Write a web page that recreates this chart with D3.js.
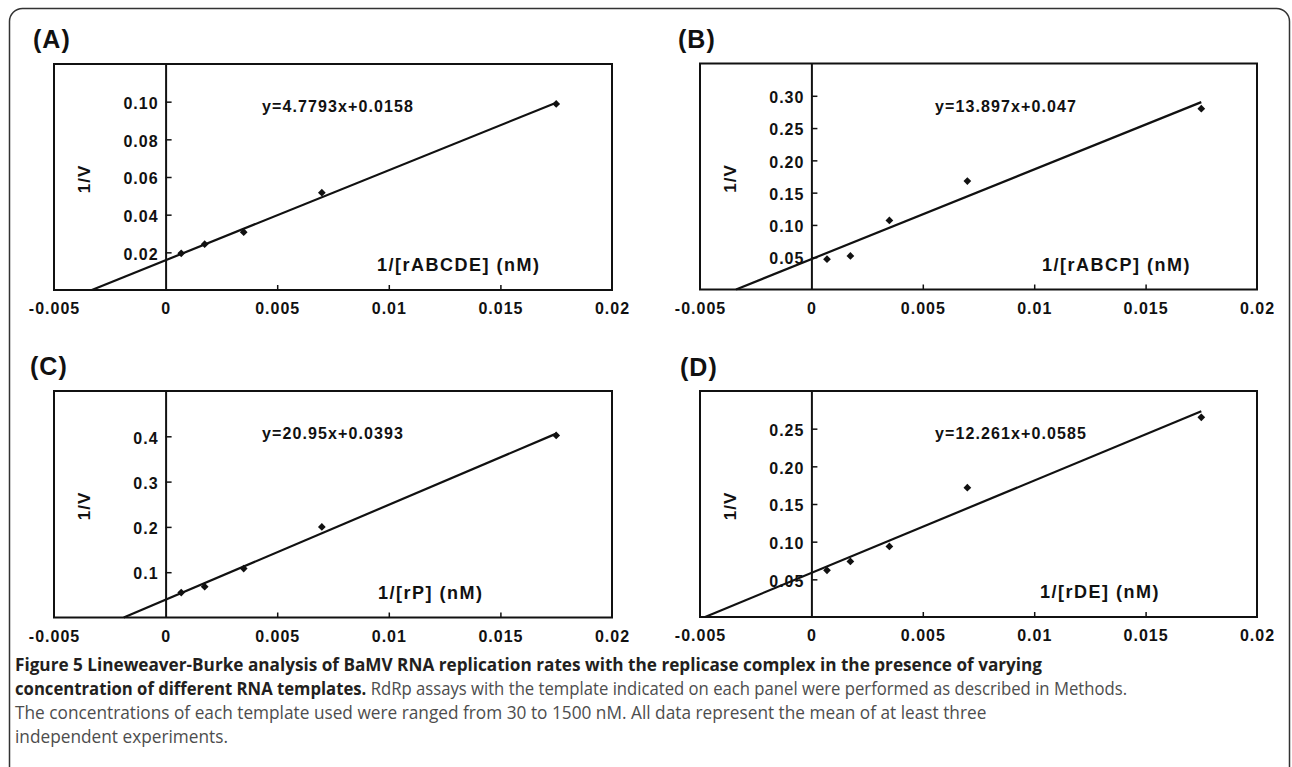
<!DOCTYPE html>
<html>
  <head>
    <title>Figure 5</title>
    <script src="https://cdn.jsdelivr.net/npm/d3@7"></script>
    <style>
      body { margin: 0; background: #fff; }
      .panel text { font-family: "Liberation Sans", Arial, sans-serif; font-weight: bold; fill: #111; }
      .caption text { font-family: "Open Sans", sans-serif; font-size: 18px; }
    </style>
  </head>

  <body>
    <svg id="plot" width="1292" height="767"></svg>

    <script>
      // data
      var xValues = [0.0007, 0.00175, 0.0035, 0.007, 0.0175];
      var valuesA = [0.0195, 0.0243, 0.0307, 0.0517, 0.0988];
      var valuesB = [0.0469, 0.052, 0.107, 0.168, 0.28];
      var valuesC = [0.055, 0.068, 0.108, 0.2, 0.402];
      var valuesD = [0.062, 0.0737, 0.0937, 0.1717, 0.265];

      var panelLabels = ["(A)", "(B)", "(C)", "(D)"];
      var xLabels = ["1/[rABCDE] (nM)", "1/[rABCP] (nM)", "1/[rP] (nM)", "1/[rDE] (nM)"];
      var equations = ["y=4.7793x+0.0158", "y=13.897x+0.047", "y=20.95x+0.0393", "y=12.261x+0.0585"];
      var slopes = [4.7793, 13.897, 20.95, 12.261];
      var intercepts = [0.0158, 0.047, 0.0393, 0.0585];
      var yMax = [0.12, 0.35, 0.5, 0.3];
      var yTicks = [
        [0.02, 0.04, 0.06, 0.08, 0.1],
        [0.05, 0.1, 0.15, 0.2, 0.25, 0.3],
        [0.1, 0.2, 0.3, 0.4],
        [0.05, 0.1, 0.15, 0.2, 0.25]
      ];
      var yFormats = [".2f", ".2f", ".1f", ".2f"];
      var xTicks = [-0.005, 0, 0.005, 0.01, 0.015, 0.02];
      var xDomain = [-0.005, 0.02];

      var captionBold1 = "Figure 5 Lineweaver-Burke analysis of BaMV RNA replication rates with the replicase complex in the presence of varying";
      var captionBold2 = "concentration of different RNA templates.";
      var captionText2 = " RdRp assays with the template indicated on each panel were performed as described in Methods.";
      var captionText3 = "The concentrations of each template used were ranged from 30 to 1500 nM. All data represent the mean of at least three";
      var captionText4 = "independent experiments.";

      var series = [valuesA, valuesB, valuesC, valuesD];

      // layout of the four boxes
      var boxes = [
        { left: 54, right: 612, top: 64, bottom: 290, lx: 33, ly: 48, labX: 377, eqX: 262 },
        { left: 700, right: 1257, top: 63.5, bottom: 289.5, lx: 678, ly: 48, labX: 1042, eqX: 935 },
        { left: 54, right: 612, top: 391, bottom: 617.5, lx: 30, ly: 375, labX: 378, eqX: 262 },
        { left: 700, right: 1257, top: 391, bottom: 617, lx: 680, ly: 376, labX: 1040, eqX: 935 }
      ];

      var svg = d3.select("#plot");

      // outer frame
      svg.append("rect")
        .attr("x", 9.5).attr("y", 8.5)
        .attr("width", 1280).attr("height", 820)
        .attr("rx", 13)
        .attr("fill", "none")
        .attr("stroke", "#333")
        .attr("stroke-width", 1.5);

      boxes.forEach(function (b, i) {
        var g = svg.append("g").attr("class", "panel");
        var x = d3.scaleLinear().domain(xDomain).range([b.left, b.right]);
        var y = d3.scaleLinear().domain([0, yMax[i]]).range([b.bottom, b.top]);

        g.append("text")
          .attr("x", b.lx).attr("y", b.ly)
          .style("font-size", "25px")
          .style("letter-spacing", "1px")
          .text(panelLabels[i]);

        g.append("rect")
          .attr("x", b.left).attr("y", b.top)
          .attr("width", b.right - b.left).attr("height", b.bottom - b.top)
          .attr("fill", "none")
          .attr("stroke", "#111")
          .attr("stroke-width", 2);

        // x axis along the bottom
        var xa = g.append("g")
          .attr("transform", "translate(0," + b.bottom + ")")
          .call(d3.axisBottom(x).tickValues(xTicks).tickSize(-5).tickPadding(13)
            .tickFormat(function (d) { return String(d); }));
        xa.select(".domain").remove();
        xa.selectAll(".tick line")
          .attr("stroke", "#111").attr("stroke-width", 1.5)
          .filter(function (d) { return d <= 0 || d >= 0.02; }).remove();
        xa.selectAll(".tick text")
          .attr("fill", "#111")
          .style("font-size", "16px")
          .style("letter-spacing", "1px")
          .style("font-family", "'Liberation Sans', Arial, sans-serif")
          .style("font-weight", "bold");

        // y axis at x = 0
        var ya = g.append("g")
          .attr("transform", "translate(" + x(0) + ",0)")
          .call(d3.axisLeft(y).tickValues(yTicks[i]).tickSizeInner(-6).tickSizeOuter(0)
            .tickPadding(7).tickFormat(d3.format(yFormats[i])));
        ya.select(".domain").attr("stroke", "#111").attr("stroke-width", 2);
        ya.selectAll(".tick line").attr("stroke", "#111").attr("stroke-width", 1.5);
        ya.selectAll(".tick text")
          .attr("fill", "#111")
          .attr("dy", "0.42em")
          .style("font-size", "16px")
          .style("letter-spacing", "1px")
          .style("font-family", "'Liberation Sans', Arial, sans-serif")
          .style("font-weight", "bold");

        // fitted line
        var x0 = -intercepts[i] / slopes[i];
        var x1 = xValues[xValues.length - 1];
        g.append("path")
          .datum([x0, x1])
          .attr("d", d3.line()
            .x(function (d) { return x(d); })
            .y(function (d) { return y(slopes[i] * d + intercepts[i]); }))
          .attr("fill", "none")
          .attr("stroke", "#111")
          .attr("stroke-width", 2.2);

        // points
        g.selectAll(".pt")
          .data(series[i])
          .join("path")
          .attr("class", "pt")
          .attr("d", d3.symbol(d3.symbolSquare, 30))
          .attr("transform", function (d, j) {
            return "translate(" + x(xValues[j]) + "," + y(d) + ") rotate(45)";
          })
          .attr("fill", "#111");

        g.append("text")
          .attr("x", b.eqX).attr("y", b.top + 48)
          .style("font-size", "16px")
          .style("letter-spacing", "1.1px")
          .text(equations[i]);

        g.append("text")
          .attr("x", b.labX).attr("y", b.bottom - 19)
          .style("font-size", "18px")
          .style("letter-spacing", "1.5px")
          .text(xLabels[i]);

        g.append("text")
          .attr("transform", "translate(" + (b.left + 36) + "," + (b.top + 115) + ") rotate(-90)")
          .attr("text-anchor", "middle")
          .style("font-size", "17px")
          .style("letter-spacing", "1px")
          .text("1/V");
      });

      // caption: each line squeezed horizontally to the width it has in the figure
      var cap = svg.append("g").attr("class", "caption");
      var capX = 15;
      function capLine(parts, yb, width, sx) {
        var g = cap.append("g");
        var t = g.append("text").attr("x", 0).attr("y", 0);
        parts.forEach(function (p) {
          t.append("tspan")
            .attr("fill", p.bold ? "#231f20" : "#4d4d4d")
            .style("font-weight", p.bold ? "bold" : "normal")
            .text(p.text);
        });
        var w = t.node().getComputedTextLength();
        var s = sx || width / w;
        g.attr("transform", "translate(" + capX + "," + yb + ") scale(" + s + ",1)");
        return s;
      }
      capLine([{ text: captionBold1, bold: true }], 671, 1028);
      capLine([{ text: captionBold2, bold: true }, { text: captionText2, bold: false }], 695, 1113);
      var s3 = capLine([{ text: captionText3, bold: false }], 719, 972);
      capLine([{ text: captionText4, bold: false }], 743, 0, s3);
    </script>
  </body>
</html>
